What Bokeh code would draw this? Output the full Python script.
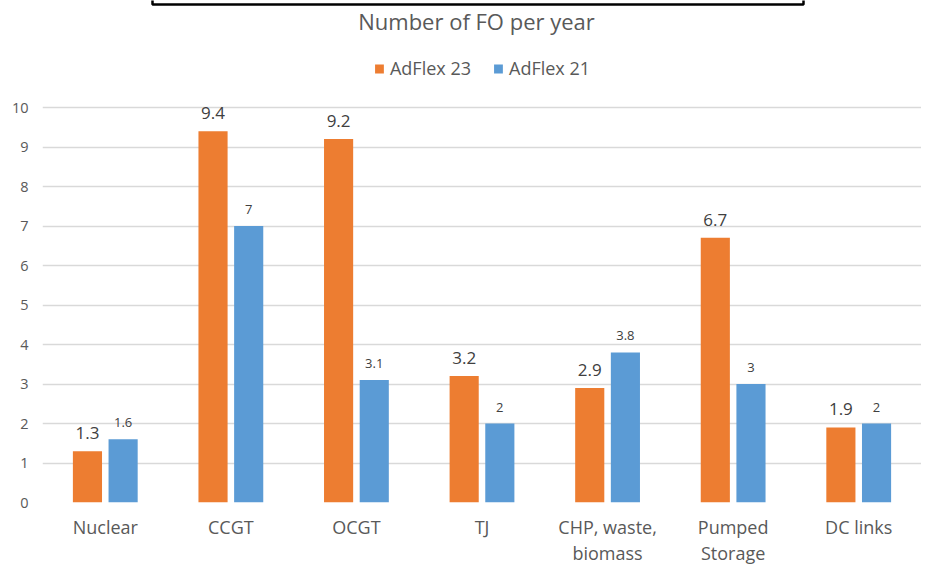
from bokeh.plotting import figure
from bokeh.models import ColumnDataSource, FactorRange, FixedTicker, Legend, LegendItem, BoxAnnotation, LabelSet, Label
from bokeh.transform import dodge
from bokeh.core.properties import value
from bokeh.embed import file_html
from bokeh.resources import INLINE

title_text = "Number of FO per year"
categories = ["Nuclear", "CCGT", "OCGT", "TJ", "CHP, waste,\nbiomass", "Pumped\nStorage", "DC links"]
adflex23 = [1.3, 9.4, 9.2, 3.2, 2.9, 6.7, 1.9]
adflex21 = [1.6, 7.0, 3.1, 2.0, 3.8, 3.0, 2.0]
labels23 = ["1.3", "9.4", "9.2", "3.2", "2.9", "6.7", "1.9"]
labels21 = ["1.6", "7", "3.1", "2", "3.8", "3", "2"]
y_ticks = [0, 1, 2, 3, 4, 5, 6, 7, 8, 9, 10]

ORANGE = "#ED7D31"
BLUE = "#5B9BD5"
GREY = "#595959"
FONT = "Open Sans"

W, H = 921, 568
BL, BB = 42, 66
FH = H - BB          # frame height

src = ColumnDataSource(dict(cat=categories, a=adflex23, b=adflex21, la=labels23, lb=labels21))

p = figure(width=W, height=H, x_range=FactorRange(*categories, range_padding=0),
           y_range=(0, 10 * FH / (FH - 107)), output_backend="svg", toolbar_location=None,
           min_border_left=BL, min_border_right=0, min_border_bottom=BB, min_border_top=0)

r1 = p.vbar(x=dodge("cat", -0.142, range=p.x_range), top="a", width=0.232, source=src,
            fill_color=ORANGE, line_color=None)
r2 = p.vbar(x=dodge("cat", 0.142, range=p.x_range), top="b", width=0.232, source=src,
            fill_color=BLUE, line_color=None)

l1 = LabelSet(x=dodge("cat", -0.142, range=p.x_range), y="a", text="la", source=src,
              text_align="center", text_baseline="alphabetic", y_offset=12,
              text_font=value(FONT), text_font_size=value("17px"), text_color="#404040")
l2 = LabelSet(x=dodge("cat", 0.142, range=p.x_range), y="b", text="lb", source=src,
              text_align="center", text_baseline="alphabetic", y_offset=12,
              text_font=value(FONT), text_font_size=value("13px"), text_color="#404040")
p.add_layout(l1)
p.add_layout(l2)

legend = Legend(items=[LegendItem(label="AdFlex 23", renderers=[r1]),
                       LegendItem(label="AdFlex 21", renderers=[r2])],
                orientation="horizontal", location="top_center")
legend.border_line_color = None
legend.background_fill_alpha = 0
legend.label_text_font = FONT
legend.label_text_font_size = "18px"
legend.label_text_color = GREY
legend.glyph_width = 11
legend.glyph_height = 11
legend.label_standoff = 6
legend.spacing = 21
legend.padding = 0
legend.margin = 56
p.add_layout(legend)

title = Label(text=title_text, x=434, y=FH - 20, x_units="screen", y_units="screen",
              text_align="center", text_baseline="middle", text_font=FONT,
              text_font_size="22px", text_color=GREY)
p.add_layout(title)

p.yaxis.ticker = FixedTicker(ticks=y_ticks)
p.ygrid.ticker = FixedTicker(ticks=y_ticks)
p.ygrid.grid_line_color = "#D9D9D9"
p.ygrid.grid_line_width = 1.5
p.xgrid.grid_line_color = None
p.outline_line_color = None

for ax in (p.xaxis, p.yaxis):
    ax.axis_line_color = None
    ax.major_tick_line_color = None
    ax.minor_tick_line_color = None
    ax.major_tick_out = 0
    ax.major_tick_in = 0
    ax.minor_tick_out = 0
    ax.major_label_text_color = GREY
    ax.major_label_text_font = FONT
p.yaxis.major_label_text_font_size = "14.5px"
p.yaxis.major_label_standoff = 14
p.xaxis.major_label_text_font_size = "18px"
p.xaxis.major_label_text_line_height = 1.1
p.xaxis.major_label_standoff = 12

box = BoxAnnotation(left=110, right=761, top=FH + 20, bottom=FH - 4,
                    left_units="screen", right_units="screen", top_units="screen", bottom_units="screen",
                    fill_alpha=0, line_color="black", line_alpha=1, line_width=2.5)
p.add_layout(box)

open("out.html", "w").write(file_html(p, INLINE))
